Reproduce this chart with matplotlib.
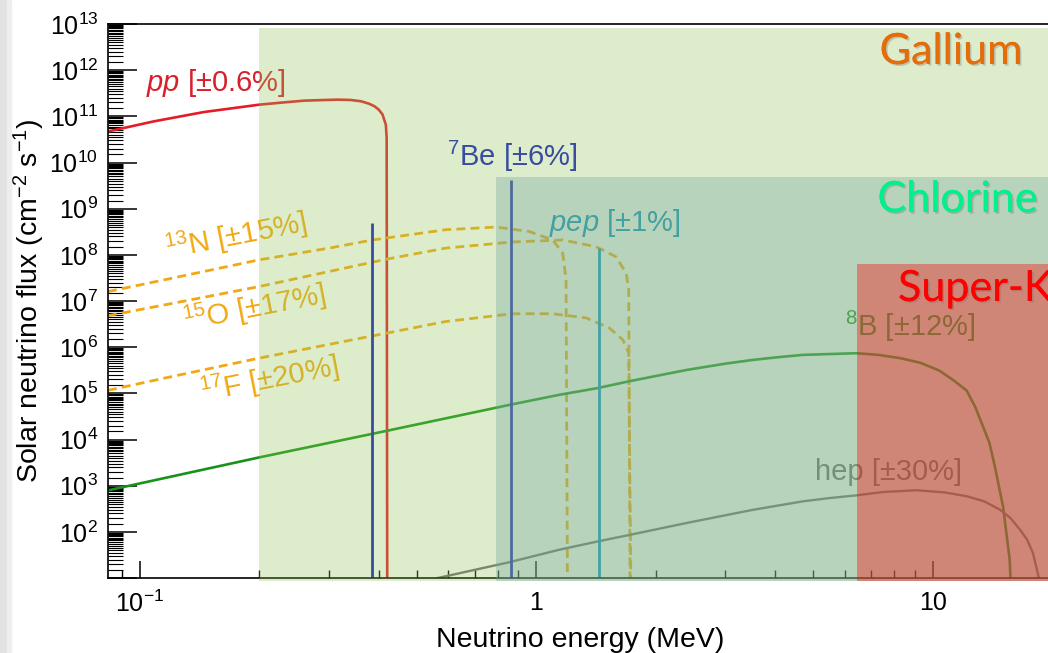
import numpy as np
import matplotlib
matplotlib.use("Agg")
import matplotlib.pyplot as plt
import matplotlib.patheffects as pe
from matplotlib.patches import Rectangle
from matplotlib.ticker import LogLocator, FuncFormatter, NullFormatter

plt.rcParams["font.family"] = ["Liberation Sans", "DejaVu Sans"]
plt.rcParams["mathtext.fontset"] = "custom"
plt.rcParams["mathtext.rm"] = "Liberation Sans"
plt.rcParams["mathtext.it"] = "Liberation Sans:italic"
plt.rcParams["mathtext.default"] = "regular"

# Solar neutrino spectra: energy (MeV), flux
pp_E = [0.083, 0.1085, 0.145, 0.20, 0.23, 0.26, 0.315, 0.34, 0.361, 0.378, 0.39, 0.40,
        0.409, 0.417, 0.419, 0.4205]
pp_F = [4.7e10, 7.8e10, 1.24e11, 1.79e11, 2.0e11, 2.19e11, 2.3e11, 2.26e11, 2.12e11, 1.88e11,
        1.66e11, 1.4e11, 1.1e11, 6.6e10, 3.4e10, 1.0]

n13_E = [0.083, 0.12, 0.20, 0.30, 0.386, 0.591, 0.791, 0.96, 1.099, 1.165, 1.188, 1.199]
n13_F = [1.6e7, 3.1e7, 7.8e7, 1.4e8, 2.1e8, 3.5e8, 4.0e8, 3.2e8, 2.1e8, 1.1e8, 2.9e7, 1.0]

o15_E = [0.083, 0.12, 0.20, 0.417, 0.591, 0.871, 1.165, 1.414, 1.588, 1.685, 1.71, 1.725]
o15_F = [4.8e6, 8.8e6, 2.06e7, 8.0e7, 1.4e8, 1.9e8, 2.1e8, 1.5e8, 9.1e7, 4.0e7, 1.7e7, 1.0]

f17_E = [0.083, 0.12, 0.20, 0.417, 0.591, 0.871, 1.099, 1.335, 1.528, 1.652, 1.71, 1.735]
f17_F = [1.16e5, 2.3e5, 5.8e5, 2.0e6, 3.6e6, 5.3e6, 5.3e6, 4.3e6, 2.6e6, 1.45e6, 7.4e5, 1.0]

b8_E = [0.083, 0.2, 0.4205, 0.862, 1.143, 1.428, 1.733, 2.389, 3.0, 3.52, 4.1, 4.7, 5.5,
        6.42, 7.3, 8.26, 9.3, 10.4, 11.3, 12.18, 12.8, 13.4, 13.9, 14.35, 15.05, 15.64, 15.9]
b8_F = [790, 4.1e3, 1.55e4, 5.7e4, 9.3e4, 1.3e5, 1.86e5, 3.2e5, 4.4e5, 5.3e5, 6.1e5, 6.8e5, 7.1e5,
        7.4e5, 6.8e5, 5.8e5, 4.6e5, 3.1e5, 1.9e5, 1.15e5, 5.1e4, 1.9e4, 8.5e3, 2.6e3, 355, 25, 1.0]

hep_E = [0.564, 0.855, 1.143, 1.428, 1.733, 2.389, 3.52, 4.7, 5.5, 6.42, 7.5, 9.1, 10.7,
         12.18, 13.5, 14.8, 15.7, 16.6, 17.3, 17.9, 18.5, 18.7]
hep_F = [10, 22, 41, 62, 87, 155, 300, 457, 540, 617, 730, 795, 716,
         590, 457, 300, 200, 112, 68, 35, 10.7, 1.0]

# line sources
be7_E = [0.384, 0.862]
be7_F = [5.0e8, 4.2e9]
pep_E = [1.442]
pep_F = [1.4e8]

# detector thresholds (MeV) and upper flux edge of the shaded boxes
det_names = ["Gallium", "Chlorine", "Super-K"]
det_Emin = [0.2, 0.791, 6.43]
det_Ftop = [None, 4.8e9, 6.4e7]

XLIM = (0.083, 20)
YLIM = (10, 1e13)

fig = plt.figure(figsize=(10.48, 6.53), dpi=100)
# slide edge on the left
fig.patches.append(Rectangle((0, 0), 7 / 1048, 1, transform=fig.transFigure,
                             color="#e2e2e2", zorder=0))
fig.patches.append(Rectangle((7 / 1048, 0), 4 / 1048, 1, transform=fig.transFigure,
                             color="#eeeeee", zorder=0))

ax = fig.add_axes([108 / 1048, 75 / 653, 944 / 1048, 554 / 653])
ax.set_xscale("log")
ax.set_yscale("log")
ax.set_xlim(*XLIM)
ax.set_ylim(*YLIM)

lw = 1.9
dash = (0, (3.2, 1.9))
cno = "#f2a812"
ax.plot(pp_E, pp_F, color="#e41c28", lw=lw)
ax.plot(n13_E, n13_F, color=cno, lw=2.0, ls=dash)
ax.plot(o15_E, o15_F, color=cno, lw=2.0, ls=dash)
ax.plot(f17_E, f17_F, color=cno, lw=2.0, ls=dash)
ax.plot(b8_E, b8_F, color="#17931a", lw=lw)
ax.plot(hep_E, hep_F, color="#707070", lw=1.7)
ax.vlines(be7_E, YLIM[0], be7_F, color="#1418bc", lw=2.0)
ax.vlines(pep_E, YLIM[0], pep_F, color="#0090c8", lw=2.0)

fs = 21
ax.text(0.1035, 5.15e11, r"$\it{pp}$ [±0.6%]", color="#d8202c", fontsize=fs, va="center")
ax.text(0.596, 1.36e10, r"$^{7}$Be [±6%]", color="#1418bc", fontsize=fs, va="center")
ax.text(1.078, 4.9e8, r"$\it{pep}$ [±1%]", color="#0090c8", fontsize=fs, va="center")
ax.text(0.1747, 2.58e8, r"$^{13}$N [±15%]", color=cno, fontsize=fs,
        ha="center", va="center", rotation=11, rotation_mode="anchor")
ax.text(0.195, 7.1e6, r"$^{15}$O [±17%]", color=cno, fontsize=fs,
        ha="center", va="center", rotation=11, rotation_mode="anchor")
ax.text(0.212, 1.97e5, r"$^{17}$F [±20%]", color=cno, fontsize=fs,
        ha="center", va="center", rotation=11, rotation_mode="anchor")
ax.text(6.0, 2.8e6, r"$^{8}$B [±12%]", color="#17931a", fontsize=fs, va="center")
ax.text(5.04, 1.96e3, "hep [±30%]", color="#6a6a6a", fontsize=fs, va="center")

# ticks
ax.yaxis.set_major_locator(LogLocator(base=10, numticks=20))
ax.yaxis.set_minor_locator(LogLocator(base=10, subs=np.arange(1.5, 10, 0.5), numticks=200))
ax.yaxis.set_minor_formatter(NullFormatter())


def ylab(v, pos):
    e = int(round(np.log10(v)))
    return "" if e < 2 else rf"$10^{{{e}}}$"


def xlab(v, pos):
    e = int(round(np.log10(v)))
    return rf"$10^{{{e}}}$" if e < 0 else f"{v:g}"


ax.yaxis.set_major_formatter(FuncFormatter(ylab))
ax.xaxis.set_major_locator(LogLocator(base=10, numticks=20))
ax.xaxis.set_minor_locator(LogLocator(base=10, subs=np.arange(2, 10), numticks=50))
ax.xaxis.set_major_formatter(FuncFormatter(xlab))
ax.xaxis.set_minor_formatter(NullFormatter())

ax.tick_params(axis="y", which="major", direction="in", length=21, width=1.1, pad=7, labelsize=18)
ax.tick_params(axis="y", which="minor", direction="in", length=11, width=0.8)
ax.tick_params(axis="x", which="major", direction="in", length=12, width=1.1, pad=9, labelsize=18)
ax.tick_params(axis="x", which="minor", direction="in", length=6, width=1.0)
for s in ax.spines.values():
    s.set_linewidth(1.2)

ax.set_xlabel("Neutrino energy (MeV)", fontsize=20.5, labelpad=7)
ax.set_ylabel("Solar neutrino flux (cm$^{-2}$ s$^{-1}$)", fontsize=20.5, labelpad=2)

# translucent detector sensitivity boxes, drawn over the curves
ax.add_patch(Rectangle((det_Emin[0], -0.006), 30, 0.9993, transform=ax.get_xaxis_transform(),
                       facecolor="#91c658", alpha=0.3, lw=0, zorder=4, clip_on=False))
ax.add_patch(Rectangle((det_Emin[1], 8.5), 30, det_Ftop[1] - 8.5,
                       facecolor="#71a49c", alpha=0.35, lw=0, zorder=4, clip_on=False))
ax.add_patch(Rectangle((det_Emin[2], 8.5), 30, det_Ftop[2] - 8.5,
                       facecolor="#ff0000", alpha=0.36, lw=0, zorder=4, clip_on=False))

shadow = [pe.withSimplePatchShadow(offset=(1.2, -1.2), shadow_rgbFace="#666666", alpha=0.3),
          pe.Normal()]
fig.text(1022 / 1048, 1 - 52 / 653, det_names[0], color="#e46c0a", fontsize=31,
         family="Lato", ha="right", va="center", path_effects=shadow, zorder=6)
fig.text(1037 / 1048, 1 - 200 / 653, det_names[1], color="#00f08c", fontsize=31,
         family="Lato", ha="right", va="center", path_effects=shadow, zorder=6)
fig.text(898 / 1048, 1 - 289 / 653, det_names[2], color="#ff0000", fontsize=31,
         family="Lato", ha="left", va="center", path_effects=shadow, zorder=6)

fig.savefig("out.png", dpi=100)
